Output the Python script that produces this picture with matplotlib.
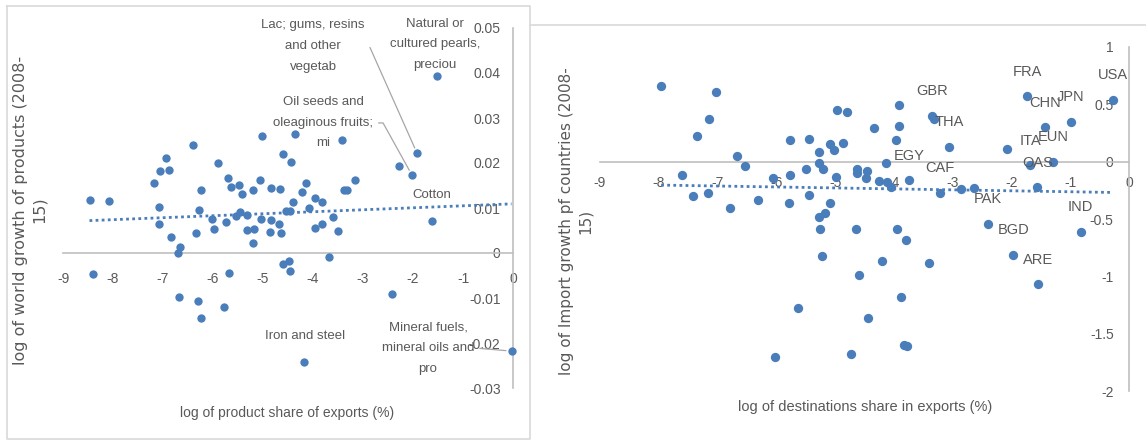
import numpy as np
import matplotlib
matplotlib.use("Agg")
import matplotlib.pyplot as plt
from matplotlib.lines import Line2D

# ---------------- data: left chart (products) ----------------
prod_x = [-8.47, -8.09, -8.41, -6.41, -6.95, -7.06, -6.88, -7.19, -5.90, -5.71,
          -5.64, -5.48, -5.42, -6.25, -7.08, -7.08, -6.29, -6.03, -5.99, -5.75,
          -6.34, -6.84, -6.66, -6.71, -5.55, -5.47, -5.33, -5.33, -5.68, -6.69,
          -6.31, -6.25, -5.79, -5.03, -4.37, -3.43, -4.61, -4.44, -5.06, -4.84,
          -4.66, -5.21, -4.14, -4.22, -3.97, -3.82, -3.16, -3.39, -3.33, -4.41,
          -4.47, -4.54, -4.09, -3.61, -3.50, -3.82, -3.97, -5.19, -5.21, -5.05,
          -4.85, -4.87, -4.69, -4.65, -4.61, -4.49, -4.46, -3.69, -2.42, -2.28]
prod_y = [0.0118, 0.0116, -0.0046, 0.0240, 0.0212, 0.0182, 0.0185, 0.0156, 0.0200, 0.0166,
          0.0147, 0.0151, 0.0131, 0.0139, 0.0102, 0.0064, 0.0096, 0.0076, 0.0054, 0.0068,
          0.0044, 0.0036, 0.0013, 0.0001, 0.0082, 0.0090, 0.0084, 0.0051, -0.0045, -0.0097,
          -0.0107, -0.0144, -0.0120, 0.0260, 0.0264, 0.0250, 0.0221, 0.0202, 0.0163, 0.0145,
          0.0142, 0.0139, 0.0155, 0.0136, 0.0122, 0.0114, 0.0162, 0.0139, 0.0139, 0.0114,
          0.0093, 0.0093, 0.0101, 0.0079, 0.0049, 0.0064, 0.0056, 0.0053, 0.0023, 0.0075,
          0.0073, 0.0047, 0.0065, 0.0044, -0.0024, -0.0018, -0.0041, -0.0008, -0.0091, 0.0193]
prod_label_names = ["Lac; gums, resins\nand other\nvegetab",
                    "Natural or\ncultured pearls,\npreciou",
                    "Oil seeds and\noleaginous fruits;\nmi",
                    "Cotton",
                    "Iron and steel",
                    "Mineral fuels,\nmineral oils and\npro"]
prod_label_x = [-1.92, -1.52, -2.02, -1.62, -4.18, -0.03]
prod_label_y = [0.0222, 0.0393, 0.0173, 0.0071, -0.0242, -0.0218]

left_xticks = [-9, -8, -7, -6, -5, -4, -3, -2, -1, 0]
left_yticks = [-0.03, -0.02, -0.01, 0, 0.01, 0.02, 0.03, 0.04, 0.05]
left_yticklabels = ["-0.03", "-0.02", "-0.01", "0", "0.01", "0.02", "0.03", "0.04", "0.05"]

# ---------------- data: right chart (destinations) ----------------
dest_x = [-7.96, -7.02, -7.15, -7.35, -6.67, -6.54, -7.61, -7.41, -7.17, -6.78,
          -6.32, -6.05, -5.76, -5.76, -5.44, -5.50, -5.28, -5.28, -5.21, -5.79,
          -5.44, -5.09, -5.28, -5.17, -5.26, -5.22, -5.63, -6.03, -4.97, -4.79,
          -3.92, -4.34, -3.92, -3.96, -4.86, -5.09, -5.02, -4.13, -4.62, -4.63,
          -4.46, -4.47, -4.26, -4.11, -4.05, -4.98, -2.86, -2.64, -2.07, -3.32,
          -4.64, -3.95, -3.80, -4.21, -3.41, -4.60, -3.88, -4.44, -3.83, -3.78,
          -4.73]
dest_y = [0.66, 0.61, 0.37, 0.22, 0.05, -0.04, -0.12, -0.30, -0.27, -0.40,
          -0.33, -0.14, -0.12, 0.19, 0.20, -0.06, 0.08, -0.01, -0.06, -0.36,
          -0.29, -0.36, -0.48, -0.45, -0.59, -0.82, -1.28, -1.70, 0.45, 0.43,
          0.49, 0.29, 0.31, 0.19, 0.16, 0.15, 0.10, -0.01, -0.06, -0.10,
          -0.085, -0.14, -0.17, -0.18, -0.22, -0.13, -0.24, -0.23, 0.11, 0.37,
          -0.59, -0.59, -0.68, -0.87, -0.88, -0.99, -1.18, -1.36, -1.60, -1.61,
          -1.68]
dest_label_names = ["USA", "FRA", "CHN", "JPN", "GBR", "THA", "ITA", "EUN",
                    "OAS", "EGY", "CAF", "PAK", "BGD", "ARE", "IND"]
dest_label_x = [-0.27, -1.73, -1.43, -0.99, -3.35, -3.06, -1.68, -1.29,
                -1.56, -3.74, -3.21, -2.40, -1.97, -1.55, -0.82]
dest_label_y = [0.54, 0.57, 0.30, 0.35, 0.40, 0.13, -0.03, 0.00,
                -0.22, -0.16, -0.27, -0.54, -0.81, -1.07, -0.61]

right_xticks = [-9, -8, -7, -6, -5, -4, -3, -2, -1, 0]
right_yticks = [-2, -1.5, -1, -0.5, 0, 0.5, 1]
right_yticklabels = ["-2", "-1.5", "-1", "-0.5", "0", "0.5", "1"]

# ---------------- style ----------------
W, H = 1146, 440
DOT = "#4A7EBB"
TXT = "#595959"
AXC = "#BFBFBF"
BOX = "#D9D9D9"
plt.rcParams["font.family"] = ["Liberation Sans", "DejaVu Sans"]

fig = plt.figure(figsize=(W / 100, H / 100), dpi=100)


def fx(px):
    return px / W


def fy(py):
    return 1 - py / H


# chart frames
fig.add_artist(Line2D([fx(7), fx(530), fx(530), fx(7), fx(7)],
                      [fy(6), fy(6), fy(439), fy(439), fy(6)], color=BOX, lw=1.2))
fig.add_artist(Line2D([fx(530), fx(1146)], [fy(25), fy(25)], color=BOX, lw=1.2))


def style_axes(ax, xticks, yticks, yticklabels, xpad, ypad):
    for s in ["top", "right"]:
        ax.spines[s].set_visible(False)
    ax.spines["left"].set_position(("data", 0))
    ax.spines["bottom"].set_position(("data", 0))
    for s in ["left", "bottom"]:
        ax.spines[s].set_color(AXC)
        ax.spines[s].set_linewidth(1.2)
    ax.set_xticks(xticks)
    ax.set_xticklabels([str(t) for t in xticks])
    ax.set_yticks(yticks)
    ax.set_yticklabels(yticklabels)
    ax.tick_params(axis="both", length=0, labelsize=10, labelcolor=TXT)
    ax.tick_params(axis="x", pad=xpad)
    ax.tick_params(axis="y", pad=ypad)
    ax.patch.set_alpha(0)


# ---------------- left chart ----------------
axL = fig.add_axes([fx(63), fy(388), (513 - 63) / W, (388 - 28) / H])
axL.set_xlim(-9, 0)
axL.set_ylim(-0.03, 0.05)
allx = np.array(prod_x + prod_label_x)
ally = np.array(prod_y + prod_label_y)
axL.scatter(allx, ally, s=36, color=DOT, zorder=3, clip_on=False, linewidths=0)
k, b = np.polyfit(allx, ally, 1)
xs = np.array([allx.min(), allx.max()])
axL.plot(xs, k * xs + b, color=DOT, lw=2, linestyle=(0, (1, 1.2)), zorder=2)
style_axes(axL, left_xticks, left_yticks, left_yticklabels, 14, 9)

left_text_pos = [(-4.0, 0.0460), (-1.56, 0.0464), (-3.8, 0.0289),
                 (-1.62, 0.0129), (-4.16, -0.0184), (-1.7, -0.0211)]
left_conn = ["angle,angleA=0,angleB=114,rad=0", None,
             "angle,angleA=0,angleB=119,rad=0", None, None, "arc3"]
for name, x, y, (tx, ty), conn in zip(prod_label_names, prod_label_x, prod_label_y,
                                      left_text_pos, left_conn):
    if conn:
        axL.annotate(name, xy=(x, y), xytext=(tx, ty), ha="center", va="center",
                     fontsize=9.5, color=TXT, linespacing=1.95,
                     arrowprops=dict(arrowstyle="-", color="#A6A6A6", lw=0.9,
                                     connectionstyle=conn,
                                     relpos=(1, 0.5), shrinkA=2, shrinkB=4),
                     annotation_clip=False)
    else:
        axL.text(tx, ty, name, ha="center", va="center", fontsize=9.5,
                 color=TXT, linespacing=1.95)

fig.text(fx(30), fy(210), "log of world growth of products (2008-\n15)",
         rotation=90, ha="center", va="center", fontsize=11.5, color=TXT,
         family="DejaVu Sans", linespacing=1.3)
fig.text(fx(287), fy(413), "log of product share of exports (%)", ha="center",
         va="center", fontsize=10, color=TXT)

# ---------------- right chart ----------------
axR = fig.add_axes([fx(600), fy(391), (1129 - 600) / W, (391 - 47) / H])
axR.set_xlim(-9, 0)
axR.set_ylim(-2, 1)
rx = np.array(dest_x + dest_label_x)
ry = np.array(dest_y + dest_label_y)
axR.scatter(rx, ry, s=45, color=DOT, zorder=3, clip_on=False, linewidths=0)
k2, b2 = np.polyfit(rx, ry, 1)
xs2 = np.array([rx.min(), rx.max()])
axR.plot(xs2, k2 * xs2 + b2, color=DOT, lw=2, linestyle=(0, (1, 1.2)), zorder=2)
style_axes(axR, right_xticks, right_yticks, right_yticklabels, 10, 11)
for name, x, y in zip(dest_label_names, dest_label_x, dest_label_y):
    axR.annotate(name, xy=(x, y), xytext=(0, 17.5), textcoords="offset points",
                 ha="center", va="center", fontsize=10.5, color=TXT,
                 annotation_clip=False)

fig.text(fx(576), fy(221), "log of Import growth pf countries (2008-\n15)",
         rotation=90, ha="center", va="center", fontsize=11, color=TXT,
         family="DejaVu Sans", linespacing=1.3)
fig.text(fx(865), fy(407), "log of destinations share in exports (%)", ha="center",
         va="center", fontsize=10.5, color=TXT)

fig.savefig("out.png", dpi=100)
